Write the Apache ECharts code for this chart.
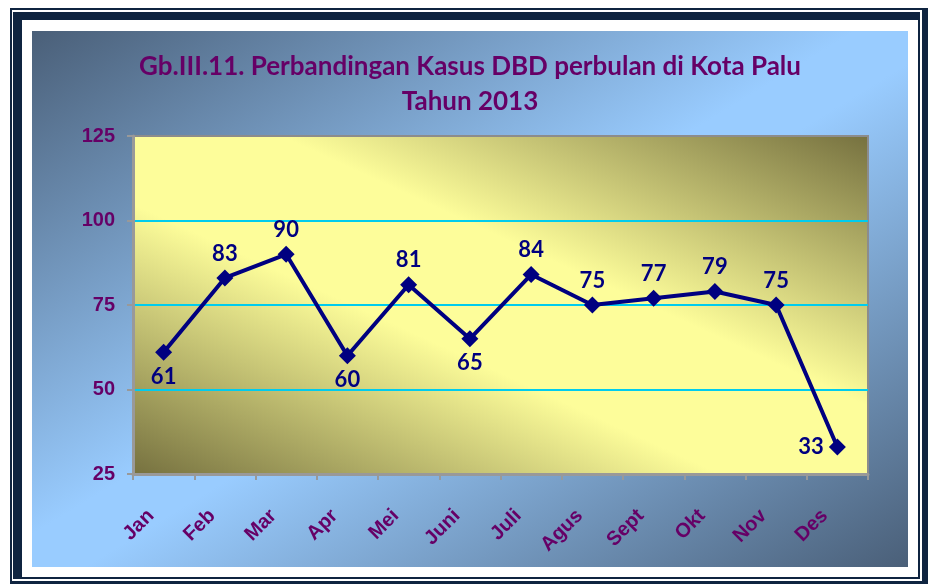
<!DOCTYPE html>
<html>
<head>
<meta charset="utf-8">
<script src="https://cdn.jsdelivr.net/npm/echarts@6/dist/echarts.min.js"></script>
<style>
  html, body { margin: 0; padding: 0; background: #fff; width: 928px; height: 584px; overflow: hidden; }
  .frame-outer {
    position: absolute; left: 10px; top: 8px; width: 910px; height: 571px;
    border-style: solid; border-color: #0f2440;
    border-width: 2px 8px 8px 2px;
  }
  .frame-inner {
    position: absolute; left: 13px; top: 12px; width: 896px; height: 557px;
    border-style: solid; border-color: #0f2440;
    border-width: 8px 2px 2px 9px;
  }
  #chart {
    position: absolute; left: 32px; top: 31px; width: 876px; height: 536px;
    background: linear-gradient(to bottom right, #4a5f78 0%, #99ccff 47%, #99ccff 53%, #4a5f78 100%);
  }
</style>
</head>
<body>
<div class="frame-outer"></div>
<div class="frame-inner"></div>
<div id="chart"></div>
<script>
const months = ['Jan', 'Feb', 'Mar', 'Apr', 'Mei', 'Juni', 'Juli', 'Agus', 'Sept', 'Okt', 'Nov', 'Des']
const kasus = [61, 83, 90, 60, 81, 65, 84, 75, 77, 79, 75, 33]
const labelPos = ['bottom', 'top', 'top', 'bottom', 'top', 'bottom', 'top', 'top', 'top', 'top', 'top', 'left']

const chart = echarts.init(document.getElementById('chart'))

const option = {
  backgroundColor: 'transparent',
  // axis labels fall back on this, so keep it at the axis size
  textStyle: {
    fontFamily: 'Liberation Sans',
    fontWeight: 'bold',
    fontSize: 20,
    color: '#660066'
  },
  title: {
    text: 'Gb.III.11. Perbandingan Kasus DBD perbulan di Kota Palu\nTahun 2013',
    left: 'center',
    top: 13,
    textStyle: {
      fontFamily: 'Lato',
      fontWeight: 'bold',
      fontSize: 26,
      lineHeight: 35,
      color: '#660066'
    }
  },
  grid: {
    left: 101,
    right: 40,
    top: 105,
    bottom: 93,
    show: true,
    borderColor: '#8c8c8c',
    borderWidth: 2,
    // iso-lines run through the top-left and bottom-right corners
    backgroundColor: new echarts.graphic.LinearGradient(0.675, -0.325, 0.325, 1.325, [
      { offset: 0, color: '#75703f' },
      { offset: 0.4, color: '#fdfd9a' },
      { offset: 0.6, color: '#fdfd9a' },
      { offset: 1, color: '#75703f' }
    ])
  },
  xAxis: {
    type: 'category',
    data: months,
    boundaryGap: true,
    axisLine: { lineStyle: { color: '#999999', width: 3 } },
    axisTick: { show: true, length: 6, lineStyle: { color: '#999999', width: 2 } },
    axisLabel: {
      rotate: 45,
      margin: 26,
      padding: [0, 18, 0, 0],
      interval: 0,
      color: '#660066',
      fontFamily: 'Liberation Sans',
      fontWeight: 'bold',
      fontSize: 20
    }
  },
  yAxis: {
    type: 'value',
    min: 25,
    max: 125,
    interval: 25,
    axisLine: { show: true, lineStyle: { color: '#999999', width: 3 } },
    axisTick: { show: true, length: 6, lineStyle: { color: '#999999', width: 2 } },
    axisLabel: {
      margin: 18,
      color: '#660066',
      fontFamily: 'Liberation Sans',
      fontWeight: 'bold',
      fontSize: 20
    },
    splitLine: {
      show: true,
      showMinLine: false,
      showMaxLine: false,
      lineStyle: { color: '#00ccee', width: 2 }
    }
  },
  series: [
    {
      name: 'Kasus DBD',
      type: 'line',
      data: kasus.map((v, i) => ({ value: v, label: { position: labelPos[i] } })),
      symbol: 'diamond',
      symbolSize: 17,
      lineStyle: { color: '#000080', width: 4 },
      itemStyle: { color: '#000080' },
      label: {
        show: true,
        distance: 5,
        color: '#000080',
        fontFamily: 'Lato',
        fontWeight: 'bold',
        fontSize: 22
      },
      animation: false
    }
  ]
}

chart.setOption(option)
</script>
</body>
</html>
